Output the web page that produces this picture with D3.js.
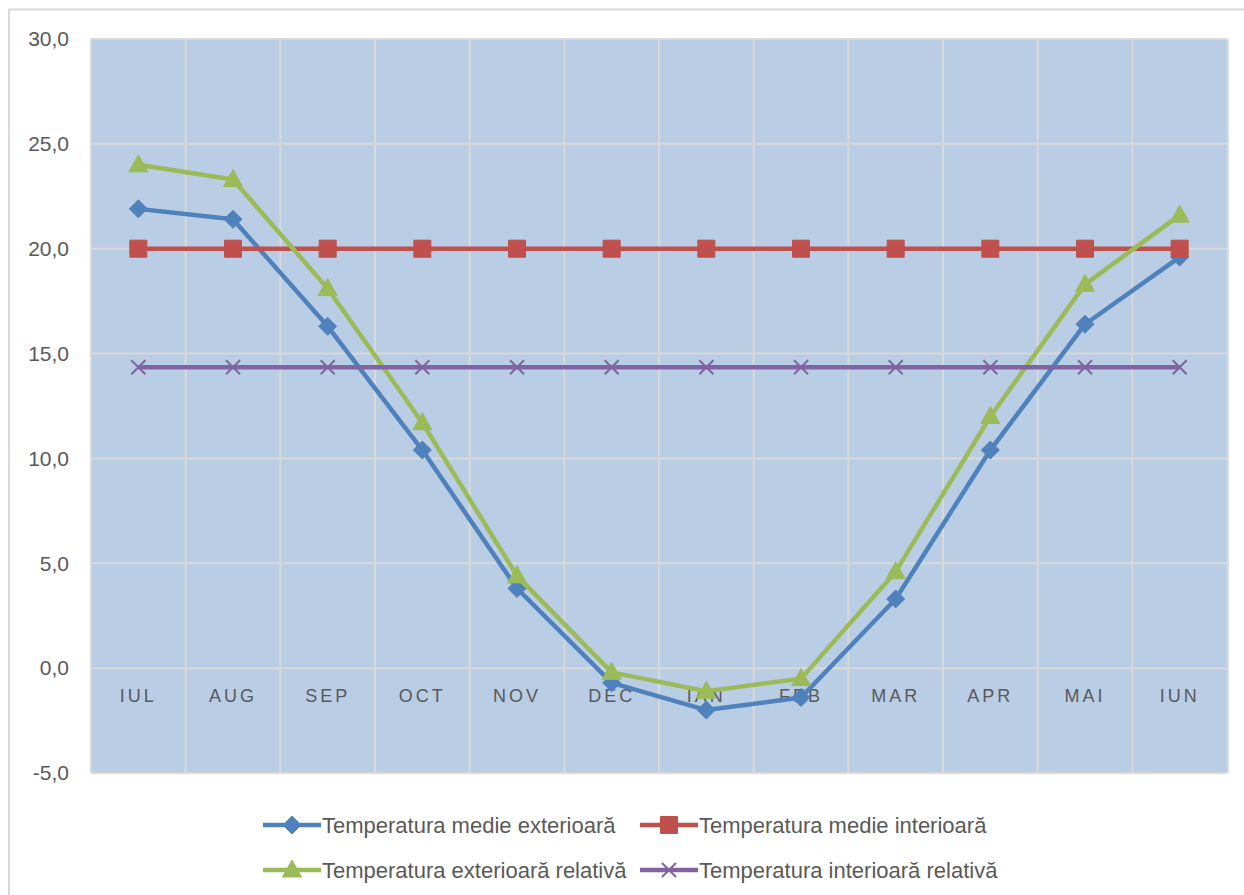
<!DOCTYPE html>
<html>
<head>
    <meta charset="utf-8">
    <title></title>
    <style>
        body { margin: 0; background: #fff; }
        text { font-family: "Liberation Sans", Arial, sans-serif; fill: #595959; }
    </style>
</head>
<body>

<script src="https://d3js.org/d3.v7.min.js"></script>
<script type="text/javascript">

    // data
    var months = ["IUL", "AUG", "SEP", "OCT", "NOV", "DEC", "IAN", "FEB", "MAR", "APR", "MAI", "IUN"];
    var medieExt  = [21.9, 21.4, 16.3, 10.4, 3.8, -0.7, -2.0, -1.4, 3.3, 10.4, 16.4, 19.6];
    var medieInt  = [20.0, 20.0, 20.0, 20.0, 20.0, 20.0, 20.0, 20.0, 20.0, 20.0, 20.0, 20.0];
    var relExt    = [24.0, 23.3, 18.1, 11.7, 4.4, -0.2, -1.1, -0.5, 4.6, 12.0, 18.3, 21.6];
    var relInt    = [14.35, 14.35, 14.35, 14.35, 14.35, 14.35, 14.35, 14.35, 14.35, 14.35, 14.35, 14.35];
    var yTicks    = [-5, 0, 5, 10, 15, 20, 25, 30];
    var seriesNames = ["Temperatura medie exterioară", "Temperatura medie interioară",
                       "Temperatura exterioară relativă", "Temperatura interioară relativă"];

    var series = [
        {name: seriesNames[0], values: medieExt, color: "#4F81BD", marker: "diamond"},
        {name: seriesNames[1], values: medieInt, color: "#C0504D", marker: "square"},
        {name: seriesNames[2], values: relExt,   color: "#9BBB59", marker: "triangle"},
        {name: seriesNames[3], values: relInt,   color: "#8064A2", marker: "x"}
    ];

    var W = 1244, H = 895;
    var plot = {left: 91, top: 39, right: 1227, bottom: 773};

    var svg = d3.select("body").append("svg")
        .attr("width", W)
        .attr("height", H);

    // chart frame
    svg.append("path")
        .attr("d", "M9," + H + "V9.5H" + W)
        .style("fill", "none")
        .style("stroke", "#d9d9d9")
        .style("stroke-width", 2);

    var x = d3.scaleBand().domain(months).range([plot.left, plot.right]);
    var y = d3.scaleLinear().domain([-5, 30]).range([plot.bottom, plot.top]);

    var loc = d3.formatLocale({decimal: ",", thousands: ".", grouping: [3], currency: ["", ""], minus: "-"});
    var fmt = loc.format(".1f");

    // plot area
    svg.append("rect")
        .attr("x", plot.left)
        .attr("y", plot.top)
        .attr("width", plot.right - plot.left)
        .attr("height", plot.bottom - plot.top)
        .style("fill", "#B9CDE5");
    // little shadow on the right
    svg.append("rect")
        .attr("x", plot.right)
        .attr("y", plot.top)
        .attr("width", 2)
        .attr("height", plot.bottom - plot.top)
        .style("fill", "#dcdcdc");

    // horizontal gridlines
    svg.append("g")
        .selectAll("line")
        .data(yTicks)
        .enter().append("line")
        .attr("x1", plot.left).attr("x2", plot.right)
        .attr("y1", function(d){ return y(d); })
        .attr("y2", function(d){ return y(d); })
        .style("stroke", "#d9d9d9")
        .style("stroke-width", 2);

    // vertical gridlines at band edges
    svg.append("g")
        .selectAll("line")
        .data(months)
        .enter().append("line")
        .attr("x1", function(d){ return x(d); })
        .attr("x2", function(d){ return x(d); })
        .attr("y1", plot.top).attr("y2", plot.bottom)
        .style("stroke", "#d9d9d9")
        .style("stroke-width", 2);

    // y axis
    var yAxis = svg.append("g")
        .attr("transform", "translate(" + plot.left + ",0)")
        .call(d3.axisLeft(y).tickValues(yTicks).tickFormat(fmt).tickSize(0).tickPadding(22));
    yAxis.select(".domain").remove();
    yAxis.selectAll("text")
        .style("font-size", "21px")
        .style("fill", "#595959")
        .style("font-family", "Liberation Sans, Arial, sans-serif");

    // x axis labels sitting under the zero line
    var xAxis = svg.append("g")
        .attr("transform", "translate(0," + y(0) + ")")
        .call(d3.axisBottom(x).tickSize(0).tickPadding(21));
    xAxis.select(".domain").remove();
    xAxis.selectAll("text")
        .style("font-size", "18px")
        .style("letter-spacing", "3px")
        .style("fill", "#595959")
        .style("font-family", "Liberation Sans, Arial, sans-serif");

    var line = d3.line()
        .x(function(d, i){ return x(months[i]) + x.bandwidth() / 2; })
        .y(function(d){ return y(d); });

    function markerPath(type) {
        if (type === "diamond") return "M0,-9L9,0L0,9L-9,0Z";
        if (type === "square") return "M-8.5,-8.5H8.5V8.5H-8.5Z";
        if (type === "triangle") return "M0,-10L9.5,7H-9.5Z";
        return "M-7,-7L7,7M-7,7L7,-7";
    }

    function drawMarker(g, type, color) {
        g.append("path")
            .attr("d", markerPath(type))
            .style("fill", type === "x" ? "none" : color)
            .style("stroke", color)
            .style("stroke-width", type === "x" ? 2 : 1);
    }

    series.forEach(function(s) {
        svg.append("path")
            .datum(s.values)
            .attr("d", line)
            .style("fill", "none")
            .style("stroke", s.color)
            .style("stroke-width", 4.5)
            .style("stroke-linejoin", "round");

        s.values.forEach(function(v, i) {
            var g = svg.append("g")
                .attr("transform", "translate(" + (x(months[i]) + x.bandwidth() / 2) + "," + y(v) + ")");
            drawMarker(g, s.marker, s.color);
        });
    });

    // legend
    var legendPos = [
        {x: 263, y: 825}, {x: 640, y: 825},
        {x: 263, y: 870}, {x: 640, y: 870}
    ];
    series.forEach(function(s, i) {
        var p = legendPos[i];
        var lg = svg.append("g").attr("transform", "translate(" + p.x + "," + p.y + ")");
        lg.append("line")
            .attr("x1", 0).attr("x2", 58)
            .attr("y1", 0).attr("y2", 0)
            .style("stroke", s.color)
            .style("stroke-width", 4.5);
        var m = lg.append("g").attr("transform", "translate(29,0)");
        drawMarker(m, s.marker, s.color);
        lg.append("text")
            .attr("x", 59)
            .attr("y", 0)
            .attr("dy", "0.35em")
            .style("font-size", "22px")
            .text(s.name);
    });

</script>
</body>
</html>
